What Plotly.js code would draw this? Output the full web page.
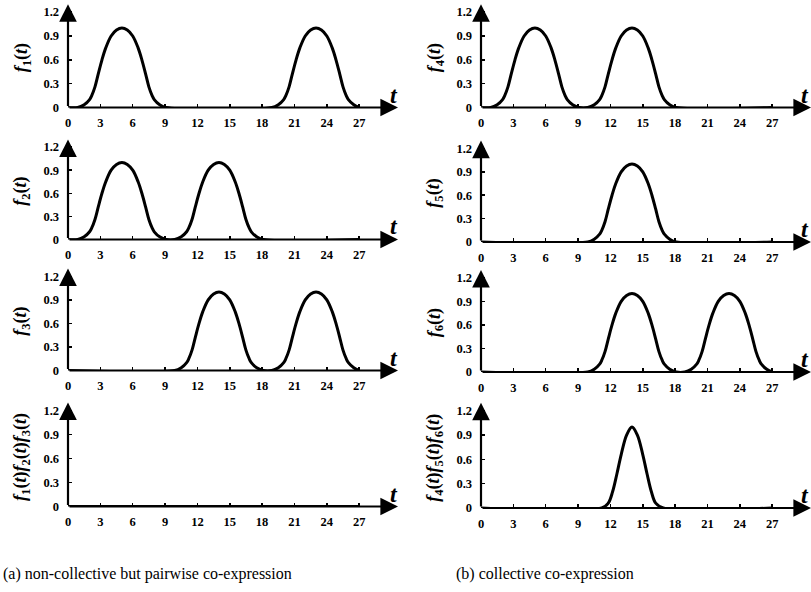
<!DOCTYPE html>
<html>
<head>
<meta charset="utf-8">
<script src="https://cdn.plot.ly/plotly-3.0.1.min.js"></script>
<style>html,body{margin:0;padding:0;background:#fff;}#chart{width:811px;height:592px;}</style>
</head>
<body>
<div id="chart"></div>
<script>
// ---- data ----
const xTickVals = [0, 3, 6, 9, 12, 15, 18, 21, 24, 27];
const yTickVals = [0, 0.3, 0.6, 0.9, 1.2];
const yTickText = ['0', '0.3', '0.6', '0.9', '1.2'];

const f1_t = [0, 0.9, 1.5, 2, 2.2, 2.5, 2.8, 3.15, 3.5, 4, 4.5, 5, 5.5, 6, 6.5, 6.85, 7.2, 7.5, 7.8, 8, 8.5, 9.1,
              18.9, 19.5, 20, 20.2, 20.5, 20.8, 21.15, 21.5, 22, 22.5, 23, 23.5, 24, 24.5, 24.85, 25.2, 25.5, 25.8, 26, 26.5, 27];
const f1_y = [0, 0, 0.035, 0.1, 0.15, 0.26, 0.42, 0.6, 0.75, 0.9, 0.975, 1, 0.975, 0.9, 0.75, 0.6, 0.42, 0.26, 0.15, 0.1, 0.035, 0,
              0, 0.035, 0.1, 0.15, 0.26, 0.42, 0.6, 0.75, 0.9, 0.975, 1, 0.975, 0.9, 0.75, 0.6, 0.42, 0.26, 0.15, 0.1, 0.035, 0];

const f2_t = [0, 0.9, 1.5, 2, 2.2, 2.5, 2.8, 3.15, 3.5, 4, 4.5, 5, 5.5, 6, 6.5, 6.85, 7.2, 7.5, 7.8, 8, 8.5, 9.1,
              9.9, 10.5, 11, 11.2, 11.5, 11.8, 12.15, 12.5, 13, 13.5, 14, 14.5, 15, 15.5, 15.85, 16.2, 16.5, 16.8, 17, 17.5, 18.1, 27];
const f2_y = [0, 0, 0.035, 0.1, 0.15, 0.26, 0.42, 0.6, 0.75, 0.9, 0.975, 1, 0.975, 0.9, 0.75, 0.6, 0.42, 0.26, 0.15, 0.1, 0.035, 0,
              0, 0.035, 0.1, 0.15, 0.26, 0.42, 0.6, 0.75, 0.9, 0.975, 1, 0.975, 0.9, 0.75, 0.6, 0.42, 0.26, 0.15, 0.1, 0.035, 0, 0];

const f3_t = [0, 9.9, 10.5, 11, 11.2, 11.5, 11.8, 12.15, 12.5, 13, 13.5, 14, 14.5, 15, 15.5, 15.85, 16.2, 16.5, 16.8, 17, 17.5, 18.1,
              18.9, 19.5, 20, 20.2, 20.5, 20.8, 21.15, 21.5, 22, 22.5, 23, 23.5, 24, 24.5, 24.85, 25.2, 25.5, 25.8, 26, 26.5, 27];
const f3_y = [0, 0, 0.035, 0.1, 0.15, 0.26, 0.42, 0.6, 0.75, 0.9, 0.975, 1, 0.975, 0.9, 0.75, 0.6, 0.42, 0.26, 0.15, 0.1, 0.035, 0,
              0, 0.035, 0.1, 0.15, 0.26, 0.42, 0.6, 0.75, 0.9, 0.975, 1, 0.975, 0.9, 0.75, 0.6, 0.42, 0.26, 0.15, 0.1, 0.035, 0];

const f123_t = [0, 27];
const f123_y = [0, 0];

const f4_t = [0, 0.9, 1.5, 2, 2.2, 2.5, 2.8, 3.15, 3.5, 4, 4.5, 5, 5.5, 6, 6.5, 6.85, 7.2, 7.5, 7.8, 8, 8.5, 9.1,
              9.9, 10.5, 11, 11.2, 11.5, 11.8, 12.15, 12.5, 13, 13.5, 14, 14.5, 15, 15.5, 15.85, 16.2, 16.5, 16.8, 17, 17.5, 18.1, 27];
const f4_y = [0, 0, 0.035, 0.1, 0.15, 0.26, 0.42, 0.6, 0.75, 0.9, 0.975, 1, 0.975, 0.9, 0.75, 0.6, 0.42, 0.26, 0.15, 0.1, 0.035, 0,
              0, 0.035, 0.1, 0.15, 0.26, 0.42, 0.6, 0.75, 0.9, 0.975, 1, 0.975, 0.9, 0.75, 0.6, 0.42, 0.26, 0.15, 0.1, 0.035, 0, 0];

const f5_t = [0, 9.9, 10.5, 11, 11.2, 11.5, 11.8, 12.15, 12.5, 13, 13.5, 14, 14.5, 15, 15.5, 15.85, 16.2, 16.5, 16.8, 17, 17.5, 18.1, 27];
const f5_y = [0, 0, 0.035, 0.1, 0.15, 0.26, 0.42, 0.6, 0.75, 0.9, 0.975, 1, 0.975, 0.9, 0.75, 0.6, 0.42, 0.26, 0.15, 0.1, 0.035, 0, 0];

const f6_t = [0, 9.9, 10.5, 11, 11.2, 11.5, 11.8, 12.15, 12.5, 13, 13.5, 14, 14.5, 15, 15.5, 15.85, 16.2, 16.5, 16.8, 17, 17.5, 18.1,
              18.9, 19.5, 20, 20.2, 20.5, 20.8, 21.15, 21.5, 22, 22.5, 23, 23.5, 24, 24.5, 24.85, 25.2, 25.5, 25.8, 26, 26.5, 27];
const f6_y = [0, 0, 0.035, 0.1, 0.15, 0.26, 0.42, 0.6, 0.75, 0.9, 0.975, 1, 0.975, 0.9, 0.75, 0.6, 0.42, 0.26, 0.15, 0.1, 0.035, 0,
              0, 0.035, 0.1, 0.15, 0.26, 0.42, 0.6, 0.75, 0.9, 0.975, 1, 0.975, 0.9, 0.75, 0.6, 0.42, 0.26, 0.15, 0.1, 0.035, 0];

const f456_t = [0, 11.2, 11.8, 12.2, 12.6, 13, 13.5, 14, 14.5, 15, 15.4, 15.8, 16.2, 16.9, 27];
const f456_y = [0, 0, 0.06, 0.2, 0.42, 0.66, 0.9, 1, 0.9, 0.66, 0.42, 0.2, 0.06, 0, 0];

const yTitles = [
  '<i>f</i><sub>1</sub>(<i>t</i>)',
  '<i>f</i><sub>2</sub>(<i>t</i>)',
  '<i>f</i><sub>3</sub>(<i>t</i>)',
  '<i>f</i><sub>1</sub>(<i>t</i>)<i>f</i><sub>2</sub>(<i>t</i>)<i>f</i><sub>3</sub>(<i>t</i>)',
  '<i>f</i><sub>4</sub>(<i>t</i>)',
  '<i>f</i><sub>5</sub>(<i>t</i>)',
  '<i>f</i><sub>6</sub>(<i>t</i>)',
  '<i>f</i><sub>4</sub>(<i>t</i>)<i>f</i><sub>5</sub>(<i>t</i>)<i>f</i><sub>6</sub>(<i>t</i>)'
];
const captions = ['(a) non-collective but pairwise co-expression', '(b) collective co-expression'];

const series = [
  [f1_t, f1_y], [f2_t, f2_y], [f3_t, f3_y], [f123_t, f123_y],
  [f4_t, f4_y], [f5_t, f5_y], [f6_t, f6_y], [f456_t, f456_y]
];

// ---- layout geometry (pixels) ----
const W = 811, H = 592;
const XMAX = 30.6, YMAX = 1.3;
const colPx = [[68, 398], [481, 811]];
const rowGeo = [
  [[107.5, 79.5], [239.5, 77], [370.5, 78.5], [506.5, 80]],
  [[107.5, 79.5], [242, 78], [372, 78.5], [508, 81]]
];
const titleX = [22, 435];
const tX = [394, 805];

const serif = 'Liberation Serif';
const traces = [];
const layout = {
  width: W, height: H,
  margin: {l: 0, r: 0, t: 0, b: 0},
  paper_bgcolor: '#fff', plot_bgcolor: 'rgba(0,0,0,0)',
  showlegend: false,
  annotations: []
};

for (let i = 0; i < 8; i++) {
  const col = i < 4 ? 0 : 1;
  const row = i % 4;
  const n = i + 1;
  const xa = n === 1 ? 'xaxis' : 'xaxis' + n;
  const ya = n === 1 ? 'yaxis' : 'yaxis' + n;
  const xr = n === 1 ? 'x' : 'x' + n;
  const yr = n === 1 ? 'y' : 'y' + n;
  const [y0, s] = rowGeo[col][row];
  const topPx = y0 - YMAX * s;

  traces.push({
    x: series[i][0], y: series[i][1], xaxis: xr, yaxis: yr,
    type: 'scatter', mode: 'lines',
    line: {color: '#000', width: 3, shape: 'spline', smoothing: 1},
    hoverinfo: 'skip'
  });

  layout[xa] = {
    domain: [colPx[col][0] / W, colPx[col][1] / W],
    range: [0, XMAX], anchor: yr,
    showgrid: false, zeroline: false, showline: false,
    tickmode: 'array', tickvals: xTickVals, ticktext: xTickVals.map(String),
    ticks: 'inside', ticklen: 4, tickwidth: 1.5, tickcolor: '#000',
    ticklabelstandoff: 6,
    tickfont: {family: serif, size: 12.5, color: '#000', weight: 'bold'},
    fixedrange: true
  };
  layout[ya] = {
    domain: [1 - y0 / H, 1 - topPx / H],
    range: [0, YMAX], anchor: xr,
    showgrid: false, zeroline: false, showline: false,
    tickmode: 'array', tickvals: yTickVals, ticktext: yTickText,
    ticks: 'inside', ticklen: 4, tickwidth: 1.5, tickcolor: '#000',
    ticklabelstandoff: 8,
    tickfont: {family: serif, size: 12.5, color: '#000', weight: 'bold'},
    fixedrange: true
  };

  // axis arrows
  layout.annotations.push({
    xref: xr, yref: yr, axref: xr, ayref: yr,
    x: XMAX, y: 0, ax: 0, ay: 0, text: '', showarrow: true,
    arrowhead: 2, arrowsize: 1.6, arrowwidth: 2.2, arrowcolor: '#000'
  });
  layout.annotations.push({
    xref: xr, yref: yr, axref: xr, ayref: yr,
    x: 0, y: YMAX, ax: 0, ay: 0, text: '', showarrow: true,
    arrowhead: 2, arrowsize: 1.6, arrowwidth: 2.2, arrowcolor: '#000'
  });
  // t label
  layout.annotations.push({
    xref: 'paper', yref: 'paper',
    x: tX[col] / W, y: 1 - (y0 - 13) / H, xanchor: 'center', yanchor: 'middle',
    text: '<b><i>t</i></b>', showarrow: false,
    font: {family: serif, size: 24, color: '#000'}
  });
  // y title
  layout.annotations.push({
    xref: 'paper', yref: 'paper',
    x: titleX[col] / W, y: 1 - (y0 - 0.62 * s) / H, xanchor: 'center', yanchor: 'middle',
    text: '<b>' + yTitles[i] + '</b>', showarrow: false, textangle: -90,
    font: {family: serif, size: 18, color: '#000'}
  });
}

// captions
layout.annotations.push({
  xref: 'paper', yref: 'paper', x: 147 / W, y: 1 - 574 / H,
  xanchor: 'center', yanchor: 'middle', showarrow: false,
  text: captions[0], font: {family: serif, size: 16, color: '#000'}
});
layout.annotations.push({
  xref: 'paper', yref: 'paper', x: 545 / W, y: 1 - 574 / H,
  xanchor: 'center', yanchor: 'middle', showarrow: false,
  text: captions[1], font: {family: serif, size: 16, color: '#000'}
});

Plotly.newPlot('chart', traces, layout, {displayModeBar: false, staticPlot: true});
</script>
</body>
</html>
